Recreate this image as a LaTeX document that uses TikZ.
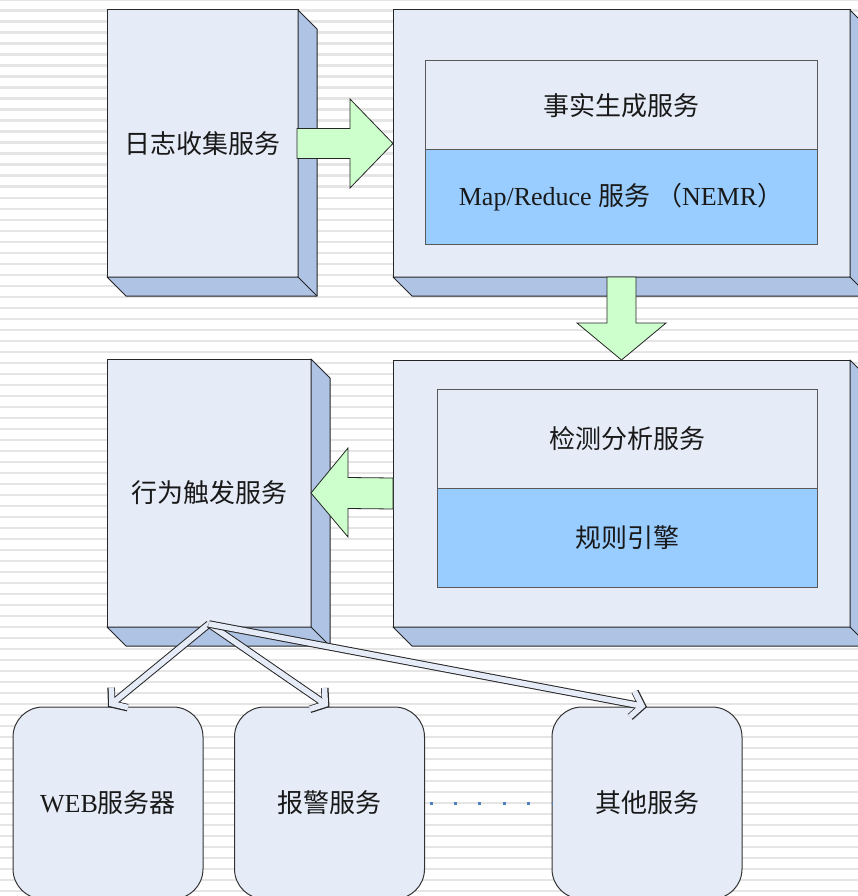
\documentclass[tikz,border=0pt]{standalone}
\usepackage{fontspec}
\setmainfont{Liberation Serif}
\newfontfamily\cjk{Noto Sans CJK SC}
\usetikzlibrary{calc,positioning,arrows.meta}

\definecolor{faceblue}{HTML}{E5EBF7}
\definecolor{sideblue}{HTML}{AFC3E4}
\definecolor{coreblue}{HTML}{99CCFF}
\definecolor{arrowgreen}{HTML}{CCFFCC}
\definecolor{stripegray}{HTML}{E5E5E5}
\definecolor{dotblue}{HTML}{4F81BD}

\tikzset{
  label font/.style={font=\fontsize{26}{31}\selectfont, text=black!90},
  frontbox/.style={draw=black!85, fill=faceblue, line width=1pt, outer sep=0pt, label font},
  innerbox/.style={draw=black!65, fill=faceblue, line width=1pt, outer sep=0pt, label font},
  corebox/.style={innerbox, fill=coreblue},
  servicebox/.style={draw=black!80, fill=faceblue, line width=1pt, outer sep=0pt,
    rounded corners=30pt, minimum width=190, minimum height=192, label font},
  sideface/.style={draw=black!85, fill=sideblue, line width=1pt, line join=round},
  blockarrow/.style={draw=black!85, fill=arrowgreen, line width=0.8pt, line join=miter},
  hollowout/.style={draw=black!85, line width=7.5pt, -{Straight Barb[sharp, length=10pt, width=26pt]}},
  hollowin/.style={draw=faceblue, line width=5.5pt, shorten >=1.6pt, -{Straight Barb[sharp, length=10pt, width=26pt]}}
}

% right and bottom faces of a front box
\newcommand{\boxdepth}[1]{%
  \filldraw[sideface] (#1.north east) -- ++(19,19) -- ($(#1.south east)+(19,19)$)
    -- ($(#1.south west)+(19,19)$) -- (#1.south west) -- (#1.south east) -- cycle;
  \draw[sideface] (#1.south east) -- ++(19,19);}

\begin{document}
\begin{tikzpicture}[x=1pt, y=-1pt]
  \useasboundingbox (0,0) rectangle (858,896);
  \fill[white] (0,0) rectangle (858,896);
  \foreach \k in {-1,...,80}
    \fill[stripegray] (0,{9.5+11*\k}) rectangle (858,{11.8+11*\k});

  % upper row
  \node[frontbox, minimum width=191, minimum height=267] (collect) at (202.5,143.5) {\cjk 日志收集服务};
  \boxdepth{collect}
  \node[frontbox, minimum width=457, minimum height=267] (fact) at (621.5,143.5) {};
  \boxdepth{fact}
  \node[innerbox, minimum width=392, minimum height=89] (factgen) at (621,105.5) {\cjk 事实生成服务};
  \node[corebox, minimum width=392, minimum height=94, below=0pt of factgen] (mapred)
    {Map/Reduce {\cjk 服务 （}NEMR{\cjk ）}};

  % middle row
  \node[frontbox, minimum width=204, minimum height=268] (trigger) at (209,493) {\cjk 行为触发服务};
  \boxdepth{trigger}
  \node[frontbox, minimum width=457, minimum height=267] (detect) at (621.5,493.5) {};
  \boxdepth{detect}
  \node[innerbox, minimum width=380, minimum height=99] (analysis) at (627,438.5) {\cjk 检测分析服务};
  \node[corebox, minimum width=380, minimum height=99, below=0pt of analysis] (rules) {\cjk 规则引擎};

  % block arrows
  \draw[blockarrow] ($(collect.east)+(-1,-15)$) -- ($(fact.west)+(-43,-15)$) -- ($(fact.west)+(-43,-44.5)$)
    -- (fact.west) -- ($(fact.west)+(-43,44.5)$) -- ($(fact.west)+(-43,15)$) -- ($(collect.east)+(-1,15)$) -- cycle;
  \draw[blockarrow] ($(fact.south)+(-14.5,0)$) -- ($(detect.north)+(-14.5,-37)$) -- ($(detect.north)+(-44.5,-37)$)
    -- (detect.north) -- ($(detect.north)+(44.5,-37)$) -- ($(detect.north)+(14.5,-37)$) -- ($(fact.south)+(14.5,0)$) -- cycle;
  \draw[blockarrow] ($(detect.west)+(0,-15.5)$) -- ($(trigger.east)+(37,-15.5)$) -- ($(trigger.east)+(37,-45)$)
    -- (trigger.east) -- ($(trigger.east)+(37,44)$) -- ($(trigger.east)+(37,15.5)$) -- ($(detect.west)+(0,15.5)$) -- cycle;

  % bottom row
  \node[servicebox] (web) at (108,803) {WEB{\cjk 服务器}};
  \node[servicebox] (alarm) at (329.5,803) {\cjk 报警服务};
  \node[servicebox] (other) at (647,803) {\cjk 其他服务};
  \draw[dotblue, line width=3pt, dash pattern=on 3pt off 21.4pt, dash phase=19.4pt] (alarm.east) -- (other.west);

  \coordinate (src) at (209,624);
  \foreach \t in {web,alarm,other} {
    \draw[hollowout] (src) -- (\t.north);
    \draw[hollowin] (src) -- (\t.north);
  }
\end{tikzpicture}
\end{document}
